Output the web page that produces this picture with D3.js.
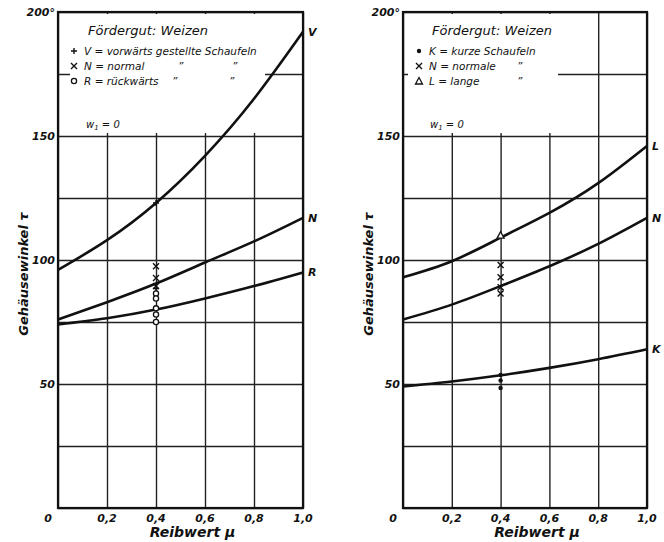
<!DOCTYPE html>
<html>
<head>
<meta charset="utf-8">
<script src="https://cdn.jsdelivr.net/npm/d3@7"></script>
<style>
  body { margin: 0; background: #fff; }
  text { font-family: "DejaVu Sans", sans-serif; font-style: italic; fill: #111; }
</style>
</head>
<body>
<div id="chart"></div>
<script>
// friction coefficient positions where curves were read
var mu = [0, 0.2, 0.4, 0.6, 0.8, 1.0];

// left panel curves
var curveV = [96, 108, 123, 142, 165, 192];
var curveN1 = [76, 83, 90.5, 99, 107.5, 117];
var curveR = [74, 76.5, 80, 84.5, 89.5, 95];

// right panel curves
var curveL = [93, 99.5, 109, 119, 131, 146];
var curveN2 = [76, 82, 89.5, 97.5, 106.5, 117];
var curveK = [49, 51, 53.5, 56.5, 60, 64];

// measured points at mu = 0.4
var ptsPlus = [123, 88.5];
var ptsCross1 = [97.5, 92.7, 89.5];
var ptsCircle = [86.5, 84.5, 80.5, 78, 75];
var ptsTri = [110];
var ptsCross2 = [98, 93, 89, 86.5];
var ptsDot = [53.6, 51.4, 48.4];

var xTicks = [0, 0.2, 0.4, 0.6, 0.8, 1.0];
var xTickLabels = ["0", "0,2", "0,4", "0,6", "0,8", "1,0"];
var yTicks = [0, 25, 50, 75, 100, 125, 150, 175, 200];
var yTickLabels = {50: "50", 100: "100", 150: "150", 200: "200°"};

var width = 664, height = 542;
var svg = d3.select("#chart").append("svg")
    .attr("width", width)
    .attr("height", height);

function panel(x0, x1, cfg) {
  var x = d3.scaleLinear().domain([0, 1]).range([x0, x1]);
  var y = d3.scaleLinear().domain([0, 200]).range([508, 12]);
  var g = svg.append("g");

  // grid
  g.append("g")
    .attr("transform", "translate(0,508)")
    .call(d3.axisBottom(x).tickValues(xTicks).tickSize(-(508 - 12)).tickFormat(""))
    .call(s => s.select(".domain").remove())
    .selectAll("line").attr("stroke", "#222").attr("stroke-width", 1.4);
  g.append("g")
    .attr("transform", "translate(" + x0 + ",0)")
    .call(d3.axisLeft(y).tickValues(yTicks).tickSize(-(x1 - x0)).tickFormat(""))
    .call(s => s.select(".domain").remove())
    .selectAll("line").attr("stroke", "#222").attr("stroke-width", 1.4);

  // blank area behind legend
  g.append("rect")
    .attr("x", cfg.blank[0]).attr("y", 14)
    .attr("width", cfg.blank[1] - cfg.blank[0]).attr("height", 119)
    .attr("fill", "#fff");

  // frame
  g.append("rect")
    .attr("x", x0).attr("y", 12)
    .attr("width", x1 - x0).attr("height", 508 - 12)
    .attr("fill", "none").attr("stroke", "#111").attr("stroke-width", 2.2);

  // tick labels
  g.selectAll(".xl").data(xTicks).enter().append("text")
    .attr("x", (d, i) => i === 0 ? x(d) - 10 : x(d))
    .attr("y", 522)
    .attr("text-anchor", "middle")
    .attr("font-size", 11).attr("font-weight", "bold")
    .text((d, i) => xTickLabels[i]);
  g.selectAll(".yl").data([50, 100, 150, 200]).enter().append("text")
    .attr("x", x0 - 3)
    .attr("y", d => y(d) + 4)
    .attr("text-anchor", "end")
    .attr("font-size", 11).attr("font-weight", "bold")
    .text(d => yTickLabels[d]);

  // axis titles
  g.append("text")
    .attr("x", (x0 + x1) / 2 + 12).attr("y", 537)
    .attr("text-anchor", "middle").attr("font-size", 14).attr("font-weight", "bold")
    .text("Reibwert μ");
  g.append("text")
    .attr("transform", "translate(" + (x0 - 30) + ",274) rotate(-90)")
    .attr("text-anchor", "middle").attr("font-size", 13).attr("font-weight", "bold")
    .text("Gehäusewinkel τ");

  // curves
  var line = d3.line()
    .x((d, i) => x(mu[i]))
    .y(d => y(d))
    .curve(d3.curveNatural);
  cfg.curves.forEach(function(c) {
    g.append("path")
      .attr("d", line(c.values))
      .attr("fill", "none")
      .attr("stroke", "#111")
      .attr("stroke-width", 2.6);
    g.append("text")
      .attr("x", x1 + 5).attr("y", y(c.values[c.values.length - 1]) + 4)
      .attr("font-size", 11).attr("font-weight", "bold")
      .text(c.name);
  });

  // legend
  var lg = g.append("g");
  lg.append("text")
    .attr("x", cfg.legX).attr("y", 35)
    .attr("font-size", 13)
    .text("Fördergut: Weizen");
  cfg.legend.forEach(function(l, i) {
    var yy = 55 + i * 15;
    drawMarker(lg, l.marker, cfg.symX, yy - 4);
    lg.append("text")
      .attr("x", cfg.symX + 10).attr("y", yy)
      .attr("font-size", 10.5)
      .text(l.text);
    (l.ditto || []).forEach(function(dx) {
      lg.append("text")
        .attr("x", dx).attr("y", yy)
        .attr("font-size", 10.5)
        .text("\u201D");
    });
  });
  lg.append("text")
    .attr("x", cfg.legX - 2).attr("y", 128)
    .attr("font-size", 10)
    .html("w<tspan font-size='7' dy='2'>1</tspan><tspan dy='-2'> = 0</tspan>");

  // markers
  cfg.points.forEach(function(p) {
    p.values.forEach(function(v) {
      drawMarker(g, p.marker, x(0.4), y(v));
    });
  });
}

function drawMarker(g, type, cx, cy) {
  var s = 3;
  if (type === "plus") {
    g.append("path").attr("d", `M${cx - s},${cy}H${cx + s}M${cx},${cy - s}V${cy + s}`)
      .attr("stroke", "#111").attr("stroke-width", 1.4);
  } else if (type === "cross") {
    g.append("path").attr("d", `M${cx - s},${cy - s}L${cx + s},${cy + s}M${cx - s},${cy + s}L${cx + s},${cy - s}`)
      .attr("stroke", "#111").attr("stroke-width", 1.4);
  } else if (type === "circle") {
    g.append("circle").attr("cx", cx).attr("cy", cy).attr("r", 2.6)
      .attr("fill", "#fff").attr("stroke", "#111").attr("stroke-width", 1.3);
  } else if (type === "dot") {
    g.append("circle").attr("cx", cx).attr("cy", cy).attr("r", 2.2).attr("fill", "#111");
  } else if (type === "tri") {
    g.append("path").attr("d", `M${cx},${cy - 3.5}L${cx + 3.5},${cy + 3}L${cx - 3.5},${cy + 3}Z`)
      .attr("fill", "#fff").attr("stroke", "#111").attr("stroke-width", 1.3);
  }
}

panel(58, 303, {
  blank: [70, 265],
  legX: 88,
  symX: 74,
  curves: [
    {name: "V", values: curveV},
    {name: "N", values: curveN1},
    {name: "R", values: curveR}
  ],
  legend: [
    {marker: "plus", text: "V  =  vorwärts gestellte  Schaufeln"},
    {marker: "cross", text: "N  =  normal", ditto: [178, 232]},
    {marker: "circle", text: "R  =  rückwärts", ditto: [172, 229]}
  ],
  points: [
    {marker: "plus", values: ptsPlus},
    {marker: "cross", values: ptsCross1},
    {marker: "circle", values: ptsCircle}
  ]
});

panel(403, 647, {
  blank: [408, 558],
  legX: 432,
  symX: 419,
  curves: [
    {name: "L", values: curveL},
    {name: "N", values: curveN2},
    {name: "K", values: curveK}
  ],
  legend: [
    {marker: "dot", text: "K  =  kurze Schaufeln"},
    {marker: "cross", text: "N  =  normale", ditto: [517]},
    {marker: "tri", text: "L  =  lange", ditto: [517]}
  ],
  points: [
    {marker: "tri", values: ptsTri},
    {marker: "cross", values: ptsCross2},
    {marker: "dot", values: ptsDot}
  ]
});
</script>
</body>
</html>
